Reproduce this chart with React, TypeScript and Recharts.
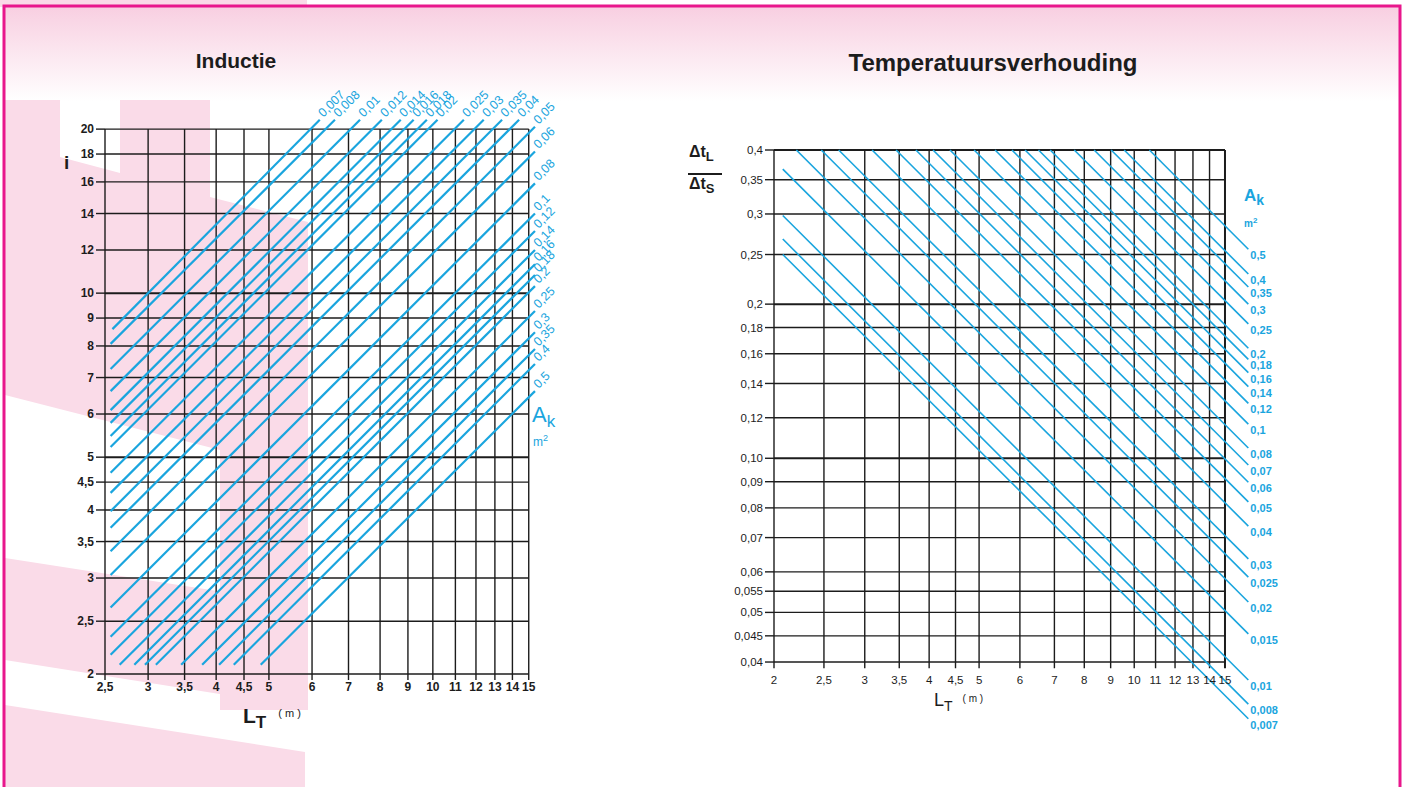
import React from 'react';
import { LineChart, Line, XAxis, YAxis, ReferenceLine, LabelList } from 'recharts';

const BLUE = '#1aa5de';
const INK = '#1c1c1c';
const PINK = '#fadbe8';
const FONT = 'Liberation Sans, Arial, sans-serif';

// ---- Inductie (left) ----
const indAk = [0.007, 0.008, 0.01, 0.012, 0.014, 0.016, 0.018, 0.02, 0.025, 0.03, 0.035, 0.04, 0.05, 0.06, 0.08, 0.1, 0.12, 0.14, 0.16, 0.18, 0.2, 0.25, 0.3, 0.35, 0.4, 0.5];
const indStartLT = [2.58, 2.56, 2.56, 2.56, 2.56, 2.56, 2.56, 2.56, 2.56, 2.56, 2.56, 2.56, 2.56, 2.56, 2.56, 2.56, 2.56, 2.66, 2.83, 2.96, 3.1, 3.45, 3.77, 4.05, 4.31, 4.83];
const indStartI = [8.59, 8.07, 7.26, 6.61, 6.1, 5.78, 5.47, 5.22, 4.68, 4.3, 3.98, 3.71, 3.36, 3.04, 2.65, 2.34, 2.17, 2.08, 2.08, 2.08, 2.08, 2.08, 2.08, 2.08, 2.08, 2.08];
const indEndLT = [6.2, 6.61, 7.35, 8.06, 8.73, 9.22, 9.75, 10.2, 11.4, 12.4, 13.4, 14.4, 15.4, 15.4, 15.4, 15.4, 15.4, 15.4, 15.4, 15.4, 15.4, 15.4, 15.4, 15.4, 15.4, 15.4];
const indEndI = [20.8, 20.8, 20.8, 20.8, 20.8, 20.8, 20.8, 20.8, 20.8, 20.8, 20.8, 20.8, 20.2, 18.2, 15.9, 14.0, 13.0, 12.0, 11.3, 10.8, 10.3, 9.27, 8.48, 7.9, 7.41, 6.61];
const indXTicks = [2.5, 3, 3.5, 4, 4.5, 5, 6, 7, 8, 9, 10, 11, 12, 13, 14, 15];
const indYTicks = [2, 2.5, 3, 3.5, 4, 4.5, 5, 6, 7, 8, 9, 10, 12, 14, 16, 18, 20];

// ---- Temperatuursverhouding (right) ----
const tmpAk = [0.007, 0.008, 0.01, 0.015, 0.02, 0.025, 0.03, 0.04, 0.05, 0.06, 0.07, 0.08, 0.1, 0.12, 0.14, 0.16, 0.18, 0.2, 0.25, 0.3, 0.35, 0.4, 0.5];
const tmpStartLT = [2.08, 2.08, 2.08, 2.08, 2.21, 2.47, 2.67, 3.1, 3.45, 3.77, 4.07, 4.39, 4.89, 5.37, 5.79, 6.14, 6.52, 6.87, 7.65, 8.36, 9.02, 9.56, 10.7];
const tmpStartR = [0.25, 0.268, 0.298, 0.367, 0.4, 0.4, 0.4, 0.4, 0.4, 0.4, 0.4, 0.4, 0.4, 0.4, 0.4, 0.4, 0.4, 0.4, 0.4, 0.4, 0.4, 0.4, 0.4];
const tmpEndLT = [16.65, 16.65, 16.65, 16.65, 16.65, 16.65, 16.65, 16.65, 16.65, 16.65, 16.65, 16.65, 16.65, 16.65, 16.65, 16.65, 16.65, 16.65, 16.65, 16.65, 16.65, 16.65, 16.65];
const tmpEndR = [0.031, 0.0331, 0.0369, 0.0454, 0.0524, 0.0586, 0.0636, 0.0737, 0.0822, 0.0898, 0.097, 0.1047, 0.1166, 0.128, 0.138, 0.147, 0.156, 0.164, 0.183, 0.2, 0.216, 0.229, 0.256];
const tmpXTicks = [2, 2.5, 3, 3.5, 4, 4.5, 5, 6, 7, 8, 9, 10, 11, 12, 13, 14, 15];
const tmpYTicks = [0.04, 0.045, 0.05, 0.055, 0.06, 0.07, 0.08, 0.09, 0.1, 0.12, 0.14, 0.16, 0.18, 0.2, 0.25, 0.3, 0.35, 0.4];
const tmpYLabels = ['0,04', '0,045', '0,05', '0,055', '0,06', '0,07', '0,08', '0,09', '0,10', '0,12', '0,14', '0,16', '0,18', '0,2', '0,25', '0,3', '0,35', '0,4'];
const TICK_FOOT = 0.0389; // bottom end of the short x tick marks

const comma = (v: number) => String(v).replace('.', ',');

const pt = (p: any) => ({
  x: p.viewBox ? p.viewBox.x : p.x,
  y: p.viewBox ? p.viewBox.y : p.y,
});

const IndLabel = (p: any) => {
  if (!p.value) return null;
  const { x, y } = pt(p);
  return (
    <text x={x + 4} y={y + 1} transform={`rotate(-45 ${x} ${y})`} fill={BLUE} fontSize={12.5} fontFamily={FONT}>
      {p.value}
    </text>
  );
};

const TmpLabel = (p: any) => {
  if (!p.value) return null;
  const { x, y } = pt(p);
  return (
    <text x={x + 2} y={y + 10} fill={BLUE} fontSize={11} fontWeight={700} fontFamily={FONT}>
      {p.value}
    </text>
  );
};

const tickStyle = { fill: INK, fontSize: 12, fontWeight: 700, fontFamily: FONT };
const tickStyleR = { fill: INK, fontSize: 11.5, fontFamily: FONT };

const InductieChart = () => (
  <LineChart width={600} height={760} margin={{ top: 112, right: 56, bottom: 56, left: 55 }}>
    <XAxis dataKey="x" type="number" scale="log" domain={[2.5, 16]} ticks={indXTicks} interval={0}
      tickFormatter={comma} axisLine={false} tickSize={6} tickLine={{ stroke: INK, strokeWidth: 1.4 }}
      height={30} tick={tickStyle} />
    <YAxis dataKey="y" type="number" scale="log" domain={[2, 21.5]} ticks={indYTicks} interval={0}
      tickFormatter={comma} axisLine={false} tickSize={9} tickLine={{ stroke: INK, strokeWidth: 1.4 }}
      width={50} tick={tickStyle} />
    {indYTicks.map((v) => (
      <ReferenceLine key={`h${v}`} segment={[{ x: 2.5, y: v }, { x: 15, y: v }]} stroke={INK} strokeWidth={v === 5 || v === 10 ? 2 : 1.4} />
    ))}
    {indXTicks.map((v) => (
      <ReferenceLine key={`v${v}`} segment={[{ x: v, y: 2 }, { x: v, y: 20 }]} stroke={INK} strokeWidth={1.4} />
    ))}
    {indAk.map((a, i) => (
      <Line key={`ind${a}`} data={[
        { x: indStartLT[i], y: indStartI[i], lbl: '' },
        { x: indEndLT[i], y: indEndI[i], lbl: comma(a) },
      ]} dataKey="y" stroke={BLUE} strokeWidth={2.2} dot={false} isAnimationActive={false}>
        <LabelList dataKey="lbl" content={IndLabel} />
      </Line>
    ))}
  </LineChart>
);

const TempChart = () => (
  <LineChart width={640} height={787} margin={{ top: 150, right: 67, bottom: 61, left: 44 }}>
    <XAxis dataKey="x" type="number" scale="log" domain={[2, 17]} hide />
    <YAxis dataKey="y" type="number" scale="log" domain={[0.03, 0.4]} ticks={tmpYTicks} interval={0}
      tickFormatter={(v: number) => tmpYLabels[tmpYTicks.indexOf(v)] ?? comma(v)} axisLine={false} tickSize={9}
      tickLine={{ stroke: INK, strokeWidth: 1.4 }} width={50} tick={tickStyleR} />
    {tmpYTicks.map((v) => (
      <ReferenceLine key={`h${v}`} segment={[{ x: 2, y: v }, { x: 15, y: v }]} stroke={INK}
        strokeWidth={v === 0.2 || v === 0.1 || v === 0.4 ? 2 : 1.4} />
    ))}
    {tmpXTicks.map((v) => (
      <ReferenceLine key={`v${v}`} segment={[{ x: v, y: TICK_FOOT }, { x: v, y: 0.4 }]} stroke={INK}
        strokeWidth={v === 15 ? 2 : 1.4}
        label={{ value: comma(v), position: 'bottom', offset: 8, fill: INK, fontSize: 11.5, fontFamily: FONT }} />
    ))}
    {tmpAk.map((a, i) => (
      <Line key={`tmp${a}`} data={[
        { x: tmpStartLT[i], y: tmpStartR[i], lbl: '' },
        { x: tmpEndLT[i], y: tmpEndR[i], lbl: comma(a) },
      ]} dataKey="y" stroke={BLUE} strokeWidth={1.6} dot={false} isAnimationActive={false}>
        <LabelList dataKey="lbl" content={TmpLabel} />
      </Line>
    ))}
  </LineChart>
);

const abs = (left: number, top: number, extra: React.CSSProperties = {}): React.CSSProperties => ({
  position: 'absolute', left, top, fontFamily: FONT, ...extra,
});

export default function App() {
  return (
    <div style={{ position: 'absolute', left: 0, top: 0, width: 1404, height: 787, overflow: 'hidden', background: '#fff' }}>
      <svg width={1404} height={787} style={{ position: 'absolute', left: 0, top: 0 }}>
        <defs>
          <linearGradient id="band" x1="0" y1="0" x2="0" y2="1">
            <stop offset="0%" stopColor="#f8cfe1" />
            <stop offset="100%" stopColor="#ffffff" />
          </linearGradient>
        </defs>
        <rect x={0} y={0} width={307} height={7} fill={PINK} />
        <rect x={5} y={7} width={1394} height={94} fill="url(#band)" />
        <polygon fill={PINK} points="5,100 60,100 60,157 120,173 120,100 210,100 210,197 308,222 308,470 220,450 5,395" />
        <rect x={220} y={440} width={88} height={270} fill={PINK} />
        <polygon fill={PINK} points="5,558 308,605 308,708 5,660" />
        <polygon fill={PINK} points="5,705 305,752 305,787 5,787" />
        <rect x={4} y={6} width={1396} height={800} fill="none" stroke="#e8178c" strokeWidth={3} />
      </svg>

      <div style={abs(236, 49, { transform: 'translateX(-50%)', fontSize: 21, fontWeight: 700, color: INK })}>Inductie</div>
      <div style={abs(993, 49, { transform: 'translateX(-50%)', fontSize: 24, fontWeight: 700, color: INK, whiteSpace: 'nowrap' })}>Temperatuursverhouding</div>

      <div style={abs(0, 0)}><InductieChart /></div>
      <div style={abs(680, 0)}><TempChart /></div>

      {/* axis titles, left */}
      <div style={abs(64, 152, { fontSize: 19, fontWeight: 700, color: INK })}>i</div>
      <div style={abs(243, 704, { fontSize: 21, fontWeight: 700, color: INK, whiteSpace: 'nowrap' })}>
        L<sub style={{ fontSize: 17 }}>T</sub><span style={{ fontSize: 11, fontWeight: 400, marginLeft: 12, verticalAlign: 6 }}>( m )</span>
      </div>
      <div style={abs(532, 402, { fontSize: 22, color: BLUE, whiteSpace: 'nowrap' })}>
        A<sub style={{ fontSize: 17 }}>k</sub>
      </div>
      <div style={abs(533, 433, { fontSize: 12, color: BLUE })}>m<sup style={{ fontSize: 9 }}>2</sup></div>

      {/* axis titles, right */}
      <div style={abs(689, 143, { fontSize: 16, fontWeight: 700, color: INK, whiteSpace: 'nowrap' })}>
        Δt<sub style={{ fontSize: 13 }}>L</sub>
      </div>
      <div style={{ position: 'absolute', left: 688, top: 173, width: 34, borderTop: `2px solid ${INK}` }} />
      <div style={abs(689, 175, { fontSize: 16, fontWeight: 700, color: INK, whiteSpace: 'nowrap' })}>
        Δt<sub style={{ fontSize: 13 }}>S</sub>
      </div>
      <div style={abs(934, 690, { fontSize: 18, color: INK, whiteSpace: 'nowrap' })}>
        L<sub style={{ fontSize: 14 }}>T</sub><span style={{ fontSize: 10, marginLeft: 10, verticalAlign: 4 }}>( m )</span>
      </div>
      <div style={abs(1244, 186, { fontSize: 17, fontWeight: 700, color: BLUE, whiteSpace: 'nowrap' })}>
        A<sub style={{ fontSize: 14 }}>k</sub>
      </div>
      <div style={abs(1244, 216, { fontSize: 10, fontWeight: 700, color: BLUE })}>m<sup style={{ fontSize: 8 }}>2</sup></div>
    </div>
  );
}
